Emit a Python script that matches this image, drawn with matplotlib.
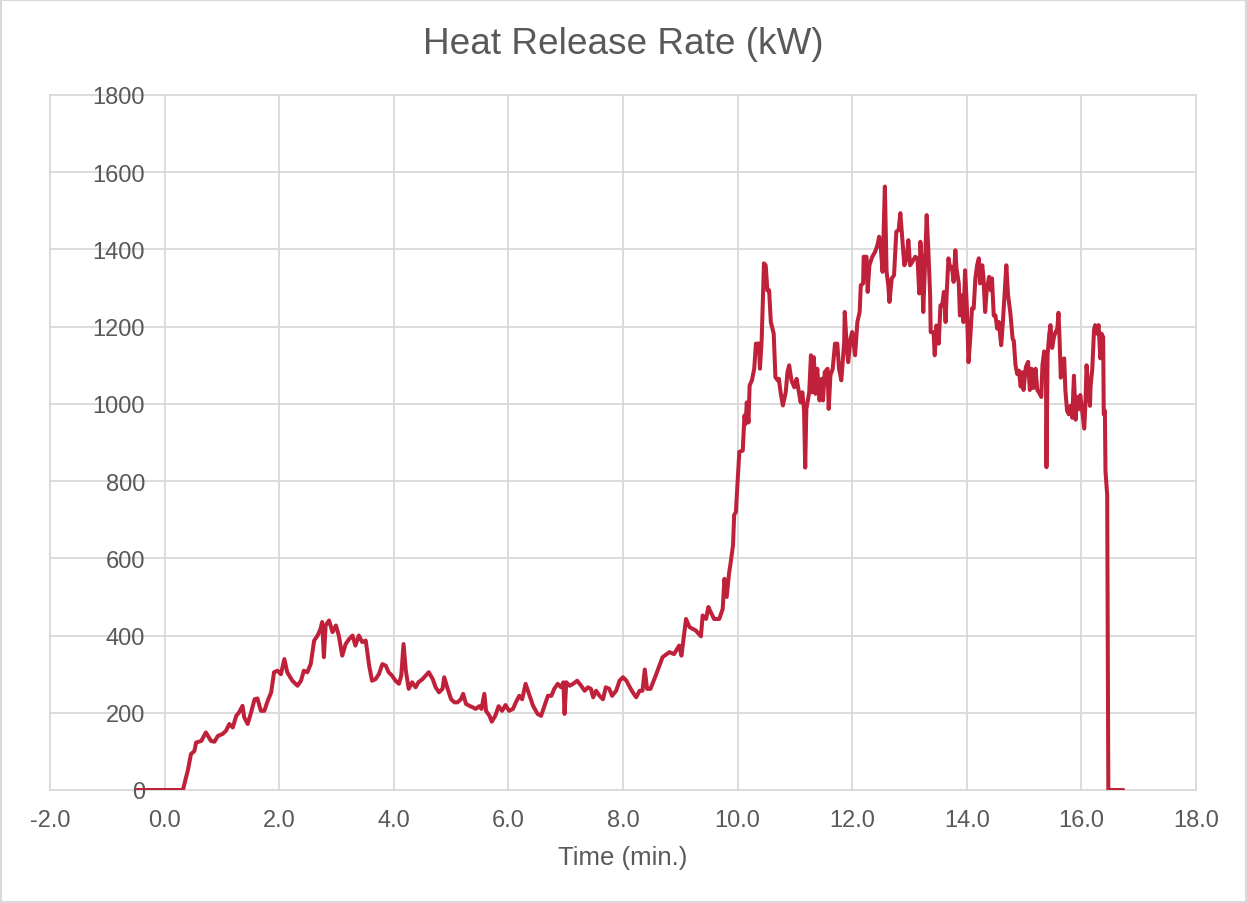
import matplotlib
matplotlib.use("Agg")
import matplotlib.pyplot as plt
from matplotlib.patches import Rectangle

plt.rcParams['font.family'] = ['Liberation Sans', 'DejaVu Sans']

title = "Heat Release Rate (kW)"
x_label = "Time (min.)"
x_ticks = [-2, 0, 2, 4, 6, 8, 10, 12, 14, 16, 18]
y_ticks = [0, 200, 400, 600, 800, 1000, 1200, 1400, 1600, 1800]

time_min = [
    -0.48, 0.32, 0.41, 0.46, 0.52, 0.55, 0.64, 0.72, 0.81, 0.87, 0.93, 1.01, 1.07, 1.13, 1.19,
    1.25, 1.30, 1.36, 1.39, 1.45, 1.51, 1.57, 1.62, 1.68, 1.74, 1.80, 1.86, 1.91, 1.97, 2.03,
    2.09, 2.14, 2.23, 2.32, 2.38, 2.43, 2.49, 2.55, 2.61, 2.67, 2.72, 2.75, 2.78, 2.81, 2.87,
    2.93, 2.99, 3.04, 3.10, 3.16, 3.22, 3.28, 3.33, 3.39, 3.45, 3.51, 3.57, 3.62, 3.68, 3.74,
    3.80, 3.86, 3.91, 3.97, 4.03, 4.09, 4.13, 4.17, 4.21, 4.26, 4.32, 4.38, 4.43,
    4.50, 4.61, 4.68, 4.73, 4.79, 4.85, 4.88, 4.94, 5.00, 5.06, 5.11, 5.17, 5.21, 5.26, 5.32,
    5.38, 5.43, 5.49, 5.53, 5.58, 5.61, 5.67, 5.71, 5.77, 5.83, 5.89, 5.95, 6.01, 6.08, 6.13,
    6.19, 6.24, 6.30, 6.36, 6.43, 6.51, 6.57, 6.63, 6.69, 6.75, 6.80, 6.86, 6.92, 6.96, 6.98,
    7.01, 7.07, 7.13, 7.20, 7.27, 7.33, 7.39, 7.44, 7.48, 7.53, 7.59, 7.65, 7.70, 7.76, 7.81,
    7.88, 7.94, 8.00, 8.06, 8.12, 8.17, 8.23, 8.29, 8.34, 8.38, 8.42, 8.48,
    8.57, 8.69, 8.81, 8.89, 8.98, 9.02, 9.10, 9.16, 9.27, 9.36, 9.39, 9.45, 9.49, 9.53, 9.59,
    9.68, 9.74, 9.77, 9.81, 9.85, 9.88, 9.92, 9.94, 9.97, 10.00, 10.03, 10.09, 10.12, 10.14,
    10.16, 10.19, 10.21, 10.25, 10.29, 10.32, 10.37, 10.39, 10.42, 10.46, 10.49, 10.52, 10.55,
    10.58, 10.63, 10.66, 10.70, 10.72, 10.75, 10.79, 10.84, 10.87, 10.90, 10.94, 10.99, 11.03,
    11.06, 11.10, 11.13, 11.16, 11.18, 11.20, 11.25, 11.28, 11.30, 11.33, 11.36, 11.39, 11.43,
    11.47, 11.49, 11.52, 11.57, 11.59, 11.62, 11.66, 11.70, 11.74, 11.77, 11.81, 11.86, 11.87,
    11.90, 11.93, 11.97, 12.00,
    12.05, 12.09, 12.13, 12.15, 12.19, 12.20, 12.25, 12.27, 12.30, 12.35, 12.40, 12.44, 12.47,
    12.50, 12.53, 12.57, 12.60, 12.63, 12.65, 12.69, 12.73, 12.77, 12.81, 12.84, 12.87, 12.91,
    12.95, 12.98, 13.01, 13.05, 13.10, 13.14, 13.17, 13.19, 13.22, 13.24, 13.27, 13.30, 13.33,
    13.36, 13.37, 13.42, 13.44, 13.47, 13.51, 13.54, 13.57, 13.60, 13.63, 13.65, 13.68, 13.71,
    13.74, 13.77, 13.80, 13.82, 13.86, 13.88, 13.91, 13.94, 13.97, 14.00, 14.03, 14.06, 14.09,
    14.12, 14.15, 14.18, 14.21, 14.23, 14.27, 14.29, 14.32, 14.35, 14.39, 14.42, 14.44, 14.47,
    14.50, 14.53, 14.56, 14.60, 14.63, 14.69,
    14.72, 14.76, 14.80, 14.82, 14.85, 14.88, 14.91, 14.94, 14.97, 14.99, 15.03, 15.07, 15.10,
    15.13, 15.16, 15.20, 15.23, 15.27, 15.30, 15.32, 15.35, 15.38, 15.39, 15.41, 15.44, 15.46,
    15.49, 15.52, 15.55, 15.58, 15.60, 15.62, 15.64, 15.67, 15.70, 15.72, 15.75, 15.78, 15.81,
    15.84, 15.87, 15.90, 15.92, 15.95, 15.98, 16.02, 16.05, 16.07, 16.09, 16.12, 16.15, 16.16,
    16.19, 16.22, 16.24, 16.27, 16.30, 16.33, 16.35, 16.38, 16.39, 16.41, 16.42, 16.45, 16.47,
    16.73,
]

hrr_kw = [
    0, 0, 54, 93, 101, 123, 127, 149, 127, 125, 140, 145, 153, 171, 162,
    192, 201, 218, 188, 171, 201, 235, 237, 205, 205, 231, 253, 305, 309, 300,
    339, 305, 283, 270, 283, 309, 305, 326, 387, 400, 417, 435, 344, 426, 439,
    409, 426, 400, 348, 378, 391, 400, 374, 400, 383, 387, 322, 283, 287, 300,
    326, 322, 305, 296, 283, 275, 296, 378, 309, 262, 279, 266, 279,
    287, 305, 287, 266, 253, 262, 292, 262, 235, 227, 227, 235, 249, 223, 218,
    214, 210, 217, 210, 249, 205, 192, 177, 192, 217, 205, 220, 205, 210, 227,
    244, 235, 275, 249, 218, 197, 192, 218, 244, 244, 262, 275, 266, 279, 197,
    279, 270, 275, 283, 270, 257, 266, 262, 240, 257, 244, 235, 266, 262, 244,
    257, 283, 292, 283, 266, 253, 240, 257, 257, 312, 262, 262,
    296, 344, 357, 352, 374, 348, 443, 422, 413, 398, 452, 443, 474, 461, 443,
    443, 469, 547, 500, 560, 590, 634, 712, 720, 800, 876, 879, 970, 948,
    1004, 952, 1048, 1061, 1091, 1156, 1156, 1091, 1165, 1364, 1359, 1294, 1294,
    1212, 1182, 1069, 1061, 1065, 1030, 996, 1030, 1082, 1100, 1061, 1043, 1065,
    1039, 1004, 1030, 983, 835, 987, 1030, 1126, 1030, 1121, 1026, 1091, 1009,
    1065, 1009, 1082, 1091, 987, 1074, 1091, 1156, 1156, 1091, 1061, 1160, 1238,
    1160, 1108, 1169, 1186,
    1126, 1212, 1238, 1307, 1312, 1381, 1381, 1290, 1359, 1381, 1394, 1411, 1433,
    1403, 1342, 1563, 1342, 1307, 1264, 1325, 1333, 1446, 1450, 1494, 1437, 1359,
    1377, 1424, 1359, 1368, 1381, 1377, 1286, 1420, 1351, 1238, 1359, 1489, 1394,
    1281, 1186, 1186, 1126, 1203, 1156, 1255, 1255, 1290, 1212, 1290, 1377, 1351,
    1355, 1316, 1398, 1351, 1312, 1229, 1281, 1212, 1346, 1255, 1108, 1169, 1247,
    1247, 1325, 1359, 1377, 1312, 1359, 1329, 1238, 1299, 1329, 1294, 1325, 1229,
    1229, 1195, 1212, 1152, 1212, 1359,
    1282, 1236, 1168, 1164, 1100, 1077, 1086, 1045, 1082, 1036, 1095, 1109, 1036,
    1091, 1041, 1091, 1036, 1027, 1018, 1100, 1136, 1127, 836, 1127, 1182, 1204,
    1145, 1173, 1186, 1195, 1236, 1164, 1068, 1109, 1118, 1036, 982, 973, 995,
    964, 1073, 959, 1018, 986, 1023, 973, 936, 1000, 1100, 1036, 995, 1045,
    1091, 1191, 1204, 1182, 1204, 1118, 1182, 1173, 973, 982, 827, 764, 0,
    0,
]

W, H = 1247, 904
fig = plt.figure(figsize=(W / 100, H / 100), dpi=100)
fig.patch.set_facecolor('white')
fig.patches.append(Rectangle((0.0008, 0.0011), 0.9984, 0.9978, transform=fig.transFigure,
                             fill=False, edgecolor='#d9d9d9', linewidth=1.5))

ax = fig.add_axes([50 / W, 1 - 791 / H, (1196 - 50) / W, (791 - 96) / H])
ax.set_xlim(x_ticks[0], x_ticks[-1])
ax.set_ylim(y_ticks[0], y_ticks[-1])

grid_color = '#d9d9d9'
for xv in x_ticks:
    ax.axvline(xv, color=grid_color, linewidth=1.3, zorder=0, clip_on=False)
for yv in y_ticks:
    ax.axhline(yv, color=grid_color, linewidth=1.3, zorder=0, clip_on=False)

ax.plot(time_min, hrr_kw, color='#C0213A', linewidth=2.9, zorder=3,
        solid_joinstyle='round', solid_capstyle='round')

for s in ['top', 'right', 'bottom']:
    ax.spines[s].set_visible(False)
ax.spines['left'].set_position(('data', 0))
ax.spines['left'].set_visible(False)

ax.set_xticks(x_ticks)
ax.set_xticklabels([f"{v:.1f}" for v in x_ticks])
ax.set_yticks(y_ticks)
ax.set_yticklabels([str(v) for v in y_ticks])
ax.tick_params(axis='both', length=0, labelsize=17, labelcolor='#595959')
ax.tick_params(axis='x', pad=14)
ax.tick_params(axis='y', pad=14)

fig.text(0.5, 1 - 45 / H, title, ha='center', va='center', fontsize=26.6, color='#595959')
fig.text(623 / W, 1 - 858 / H, x_label, ha='center', va='center', fontsize=18.5, color='#595959')

fig.savefig('out.png', dpi=100, facecolor='white')
